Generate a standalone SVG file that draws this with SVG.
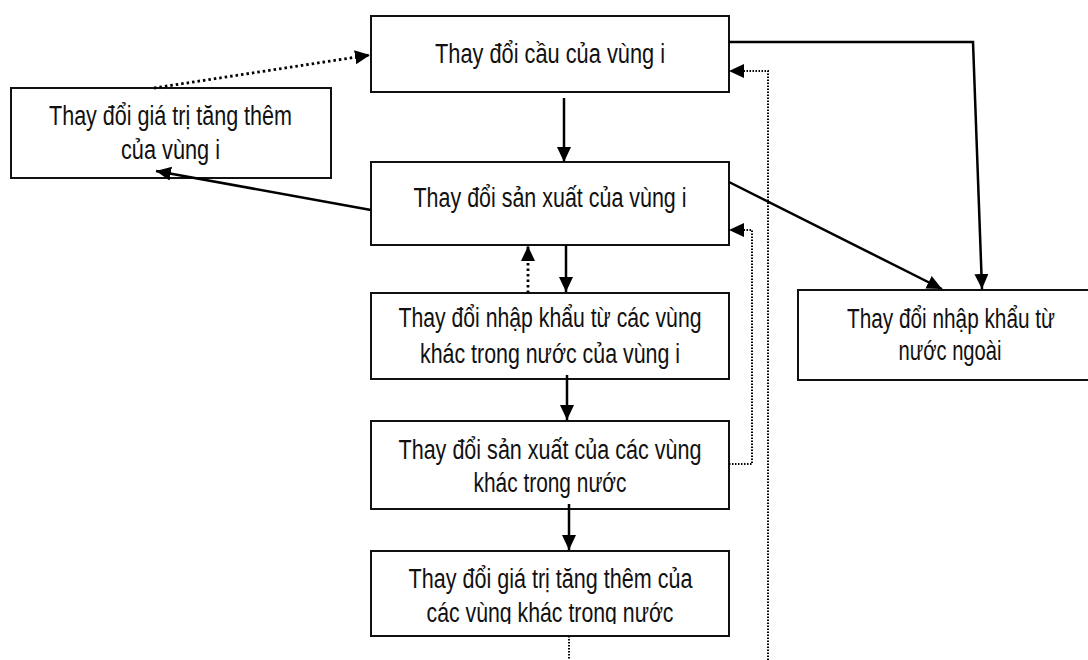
<svg xmlns="http://www.w3.org/2000/svg" width="1088" height="660" viewBox="0 0 1088 660">
<style>
.box{fill:#fff;stroke:#111;stroke-width:2}
.t{font-family:"Liberation Sans",Arial,sans-serif;font-size:27px;fill:#111;text-anchor:middle}
.solid{fill:none;stroke:#000;stroke-width:2.5}
.dot{fill:none;stroke:#000;stroke-width:2.8;stroke-dasharray:2.5 3}
.fine{fill:none;stroke:#000;stroke-width:2;stroke-dasharray:1.5 1.5}
</style>
<defs>
<marker id="ah" markerUnits="userSpaceOnUse" markerWidth="16" markerHeight="15" refX="15" refY="7" orient="auto">
<path d="M0,0 L15,7 L0,14 z" fill="#000"/>
</marker>
<clipPath id="clip5"><rect x="371" y="551" width="358" height="73"/></clipPath>
</defs>
<rect width="1088" height="660" fill="#fff"/>

<g id="n-demand">
<rect class="box" x="371" y="16" width="358" height="76"/>
<text class="t" x="550" y="63" textLength="230" lengthAdjust="spacingAndGlyphs">Thay đổi cầu của vùng i</text>
</g>

<g id="n-va-i">
<rect class="box" x="11" y="88" width="320" height="90"/>
<text class="t" x="170.5" y="125" textLength="243" lengthAdjust="spacingAndGlyphs">Thay đổi giá trị tăng thêm</text>
<text class="t" x="170.5" y="159" textLength="99" lengthAdjust="spacingAndGlyphs">của vùng i</text>
</g>

<g id="n-prod-i">
<rect class="box" x="371" y="162" width="358" height="83"/>
<text class="t" x="550" y="207" textLength="273" lengthAdjust="spacingAndGlyphs">Thay đổi sản xuất của vùng i</text>
</g>

<g id="n-imp-dom">
<rect class="box" x="371" y="293" width="358" height="86"/>
<text class="t" x="550" y="327" textLength="303" lengthAdjust="spacingAndGlyphs">Thay đổi nhập khẩu từ các vùng</text>
<text class="t" x="550" y="363" textLength="260" lengthAdjust="spacingAndGlyphs">khác trong nước của vùng i</text>
</g>

<g id="n-prod-other">
<rect class="box" x="371" y="421" width="358" height="88"/>
<text class="t" x="550" y="459" textLength="303" lengthAdjust="spacingAndGlyphs">Thay đổi sản xuất của các vùng</text>
<text class="t" x="550" y="492" textLength="153" lengthAdjust="spacingAndGlyphs">khác trong nước</text>
</g>

<g id="n-va-other">
<rect class="box" x="371" y="551" width="358" height="85"/>
<text class="t" x="550.5" y="588" textLength="284" lengthAdjust="spacingAndGlyphs">Thay đổi giá trị tăng thêm của</text>
<text class="t" x="550" y="622" textLength="247" lengthAdjust="spacingAndGlyphs" clip-path="url(#clip5)">các vùng khác trong nước</text>
</g>

<g id="n-imp-foreign">
<path class="box" d="M1088,290 H798 V380 H1088"/>
<text class="t" x="951" y="328" textLength="208" lengthAdjust="spacingAndGlyphs">Thay đổi nhập khẩu từ</text>
<text class="t" x="950" y="360" textLength="103" lengthAdjust="spacingAndGlyphs">nước ngoài</text>
</g>

<g id="connectors">
<line class="solid" x1="564" y1="98" x2="564" y2="162" marker-end="url(#ah)"/>
<line class="solid" x1="566" y1="245" x2="566" y2="292" marker-end="url(#ah)"/>
<line class="dot" x1="528" y1="293" x2="528" y2="246" marker-end="url(#ah)"/>
<line class="solid" x1="567" y1="375" x2="567" y2="420" marker-end="url(#ah)"/>
<line class="solid" x1="569" y1="504" x2="569" y2="550" marker-end="url(#ah)"/>
<line class="fine" x1="569" y1="636" x2="569" y2="660"/>
<polyline class="fine" points="729,464 752,464 752,230 729,230" marker-end="url(#ah)"/>
<polyline class="fine" points="768,660 768,71 729,71" marker-end="url(#ah)"/>
<polyline class="solid" points="729,42 973,42 982,289" marker-end="url(#ah)"/>
<line class="solid" x1="729" y1="182" x2="942" y2="289" marker-end="url(#ah)"/>
<line class="solid" x1="371" y1="210" x2="156" y2="171" marker-end="url(#ah)"/>
<line class="dot" x1="154" y1="88" x2="370" y2="55" marker-end="url(#ah)"/>
</g>
</svg>
